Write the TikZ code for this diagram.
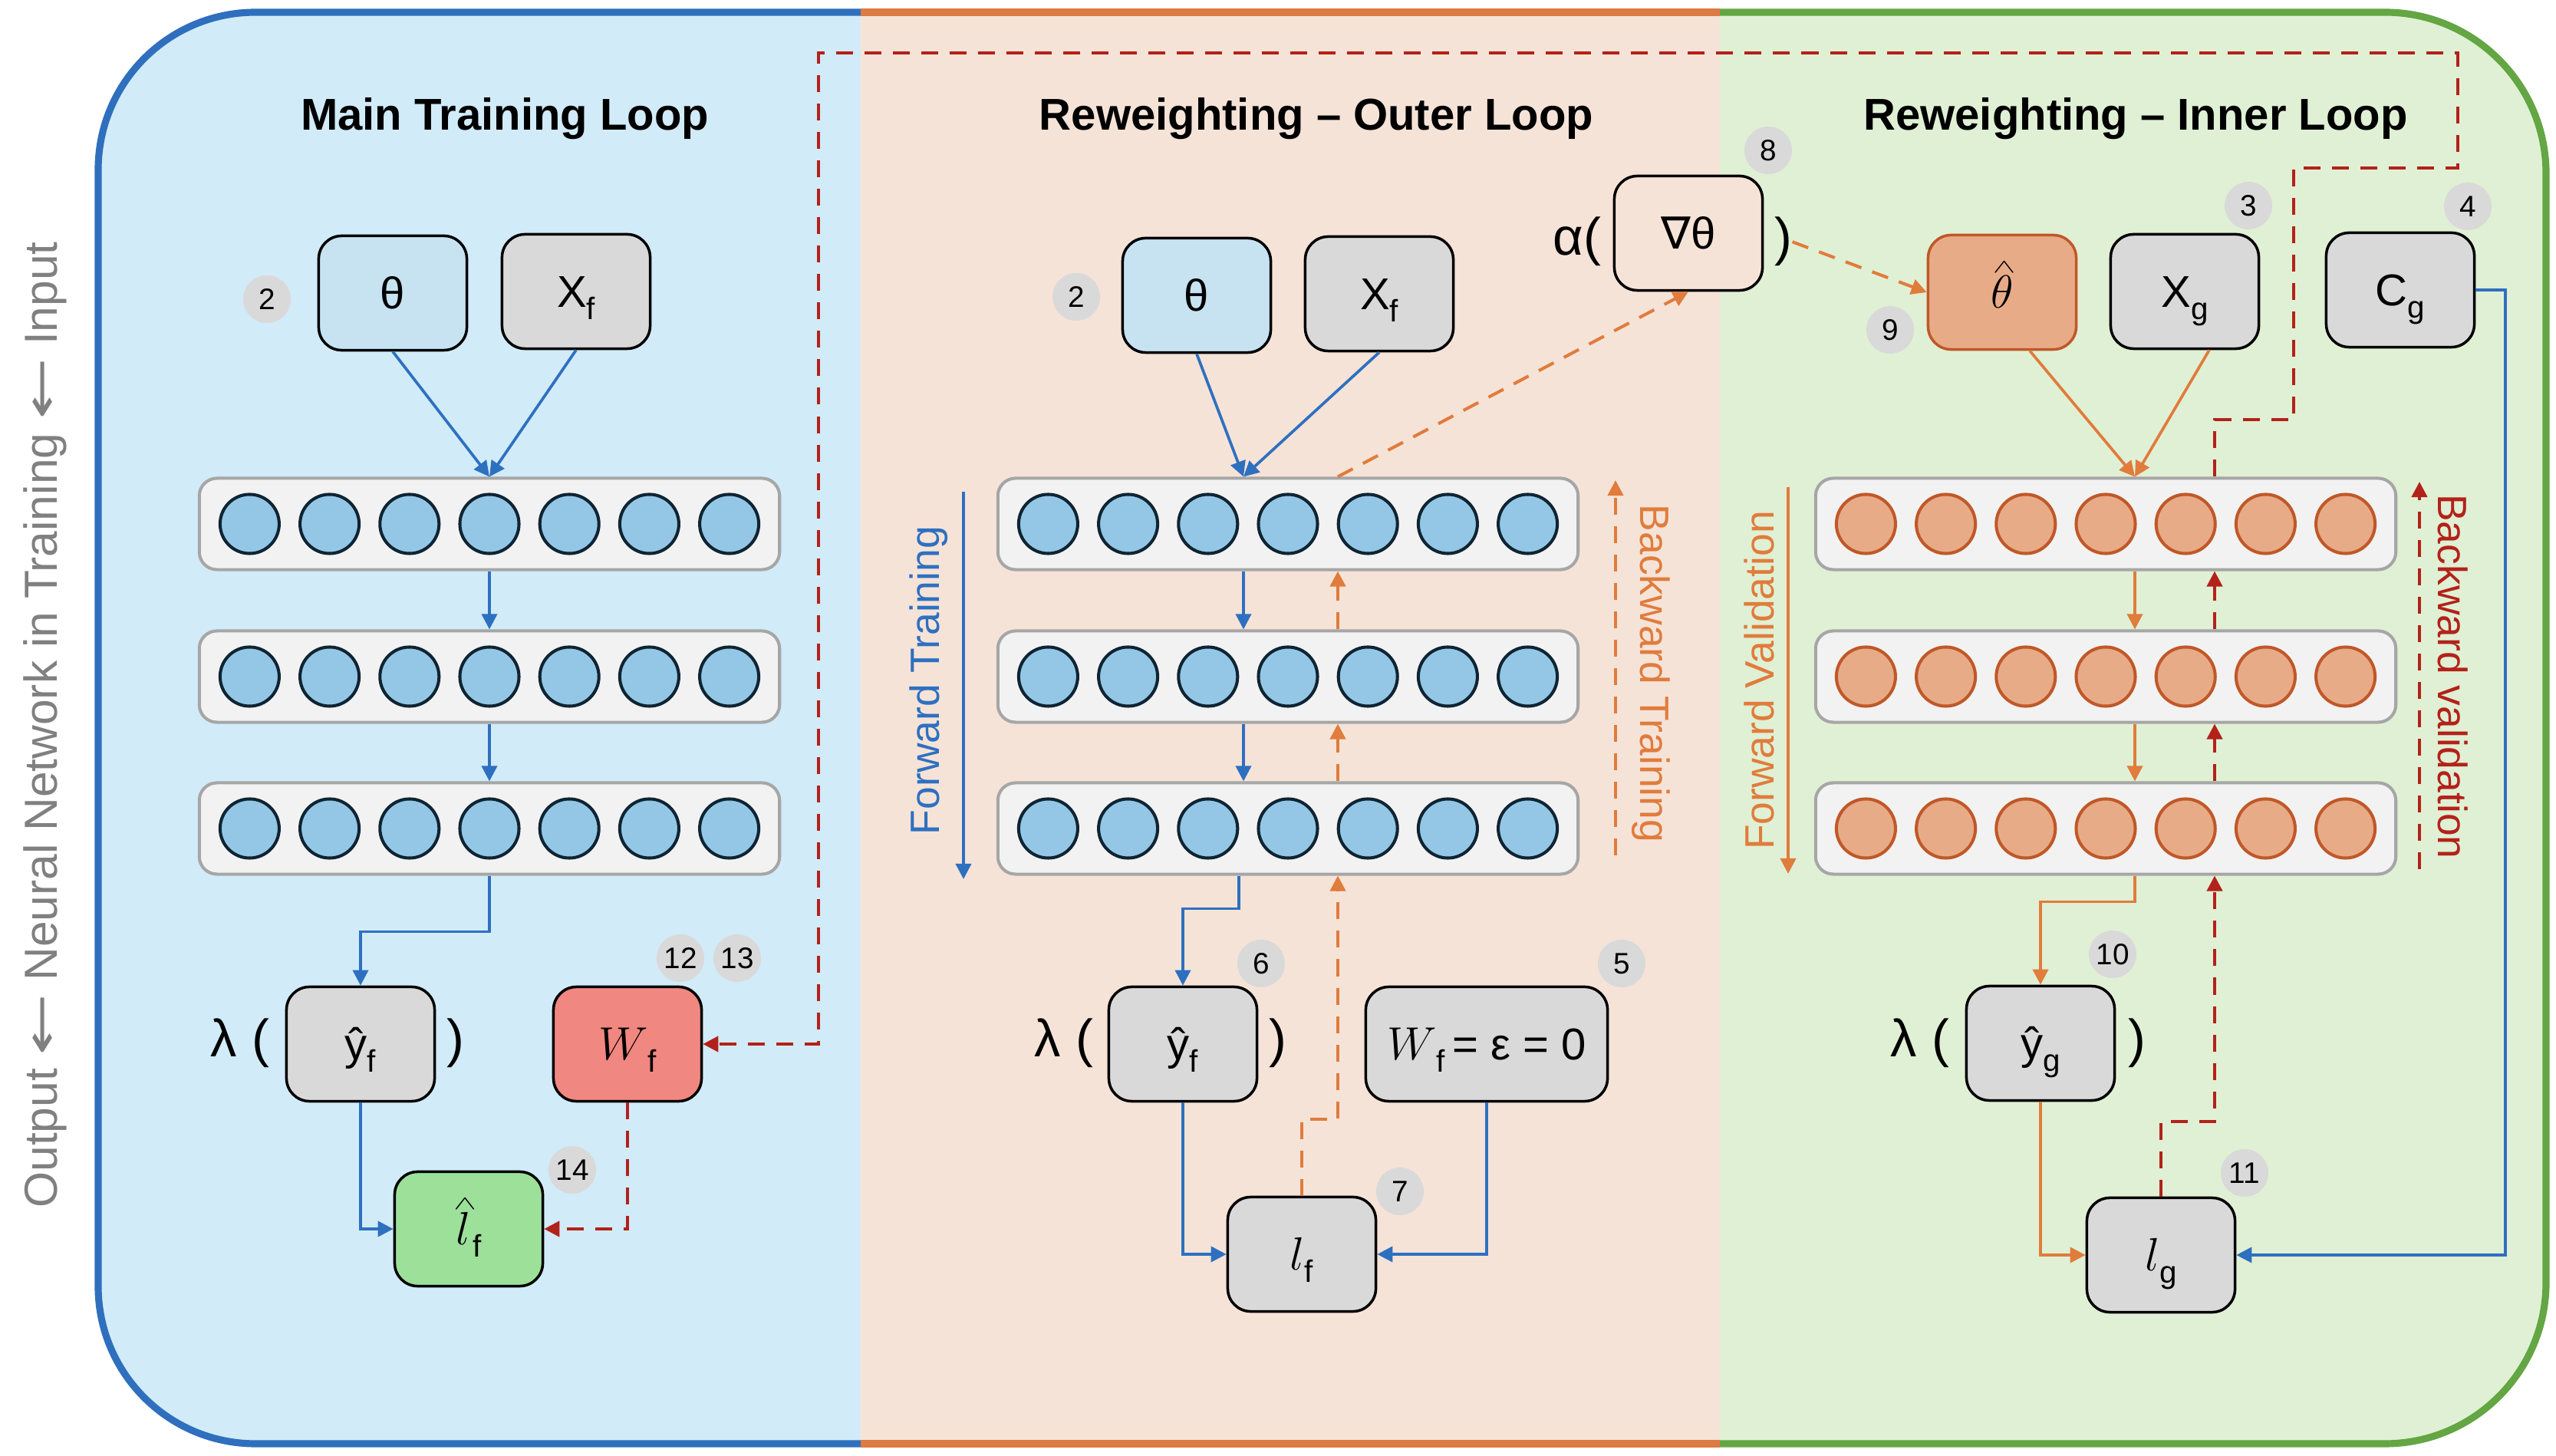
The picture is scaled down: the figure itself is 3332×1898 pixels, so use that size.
\documentclass[tikz,border=0pt]{standalone}
\usepackage{fontspec}
\setmainfont{Liberation Sans}
\newfontfamily\djv{DejaVu Sans}
\usepackage{graphicx}
\usetikzlibrary{arrows.meta,calc}

\definecolor{panelblue}{RGB}{209,235,248}
\definecolor{panelorange}{RGB}{246,227,216}
\definecolor{panelgreen}{RGB}{224,240,212}
\definecolor{borderblue}{RGB}{47,111,189}
\definecolor{borderorange}{RGB}{221,123,67}
\definecolor{bordergreen}{RGB}{99,166,67}
\definecolor{lineblue}{RGB}{46,112,192}
\definecolor{lineorange}{RGB}{224,124,60}
\definecolor{darkred}{RGB}{178,34,26}
\definecolor{boxgray}{RGB}{217,217,217}
\definecolor{numgray}{RGB}{217,217,217}
\definecolor{layerfill}{RGB}{242,242,242}
\definecolor{layerborder}{RGB}{166,166,166}
\definecolor{neuronB}{RGB}{148,199,230}
\definecolor{neuronBborder}{RGB}{15,36,51}
\definecolor{neuronO}{RGB}{232,171,136}
\definecolor{neuronOborder}{RGB}{192,88,40}
\definecolor{thetablue}{RGB}{199,227,242}
\definecolor{wred}{RGB}{240,135,128}
\definecolor{lgreen}{RGB}{156,224,154}
\definecolor{axisgray}{RGB}{128,128,128}

\newcommand\dgBox{\fontsize{16.5}{19}\selectfont}
\newcommand\dgNum{\fontsize{11}{12}\selectfont}
\newcommand\dgParen{\fontsize{19.5}{22}\selectfont}
\newcommand\dgTitle{\fontsize{16.5}{19}\selectfont\bfseries}
\newcommand\dgSide{\fontsize{15.2}{18}\selectfont}
\newcommand\dgAxis{\fontsize{17.2}{20}\selectfont}
\newcommand\sbs[1]{\raisebox{-4.5pt}{\fontsize{11.5}{12}\selectfont #1}}
\newcommand\mth[1]{{\fontsize{18}{20}\selectfont$#1$}}
% letter with a separate hat placed clearly above it
\newcommand\hatted[2]{{\fontsize{18}{20}\selectfont
  \setbox0\hbox{$#2$}%
  \rlap{\hbox to \wd0{\hss\kern#1\raisebox{\dimexpr\ht0+1.2pt\relax}{\scalebox{1.05}[0.6]{\fontsize{13}{13}\selectfont$\boldsymbol{\wedge}$}}\hss}}\box0}}
\providecommand\boldsymbol[1]{#1}
\newcommand\larr{\scalebox{1.6}[1]{\djv ←}}
\newcommand\nnlayer[4]{%
  \node[layerbox] (#1) at (#2,#3) {};
  \foreach \k in {-3,...,3}{\node[#4] (#1n\k) at ({#2+\k*104.2},#3) {};}
}

\begin{document}
\begin{tikzpicture}[x=0.01cm,y=-0.01cm,
  layerbox/.style={draw=layerborder, fill=layerfill, line width=1.15pt, rounded corners=0.23cm, minimum width=7.56cm, minimum height=1.19cm, inner sep=0pt},
  neurB/.style={circle, draw=neuronBborder, fill=neuronB, line width=1.15pt, minimum size=0.77cm, inner sep=0pt},
  neurO/.style={circle, draw=neuronOborder, fill=neuronO, line width=1.15pt, minimum size=0.77cm, inner sep=0pt},
  card/.style={draw=black, line width=1pt, rounded corners=0.3cm, minimum width=1.93cm, minimum height=1.49cm, inner sep=0pt, font=\dgBox, text height=11.8pt, text depth=0pt},
  numc/.style={circle, fill=numgray, minimum size=0.62cm, inner sep=0pt, font=\dgNum, text height=7.9pt, text depth=0pt},
  paren/.style={inner sep=0pt, font=\dgParen},
  ttl/.style={font=\dgTitle, inner sep=0pt, anchor=base},
  sidelbl/.style={font=\dgSide, inner sep=0pt, anchor=base},
  bl/.style={draw=lineblue, line width=1.05pt},
  ol/.style={draw=lineorange, line width=1.05pt},
  arrowhd/.style={-{Triangle[length=0.2cm,width=0.2cm]}},
  odash/.style={draw=lineorange, line width=1.15pt, dash pattern=on 0.22cm off 0.15cm},
  rdash/.style={draw=darkred, line width=1.15pt, dash pattern=on 0.22cm off 0.15cm}]

\useasboundingbox (0,0) rectangle (3332,1898);

% ---------- panels
\fill[panelblue, rounded corners=2.05cm] (128,16) rectangle (1500,1882);
\fill[panelgreen, rounded corners=2.1cm] (1900,16) rectangle (3319,1882);
\fill[panelorange] (1122,16) rectangle (2242,1882);
\draw[borderblue, line width=2.6pt, rounded corners=2.05cm] (1122,16) -- (128,16) -- (128,1882) -- (1122,1882);
\draw[borderorange, line width=2.6pt] (1122,16) -- (2242,16) (1122,1882) -- (2242,1882);
\draw[bordergreen, line width=2.6pt, rounded corners=2.1cm] (2242,16) -- (3319,16) -- (3319,1882) -- (2242,1882);

% ---------- titles
\node[ttl] (t1) at (658,170) {Main Training Loop};
\node[ttl] (t2) at (1716,170) {Reweighting – Outer Loop};
\node[ttl] (t3) at (2784,170) {Reweighting – Inner Loop};

% ---------- axis label
\node[font=\dgAxis, text=axisgray, inner sep=0pt, rotate=90, anchor=base] (axis) at (74,945)
  {Output \larr{} Neural Network in Training \larr{} Input};

% ---------- layers
\nnlayer{A1}{638}{683}{neurB}
\nnlayer{A2}{638}{882}{neurB}
\nnlayer{A3}{638}{1080}{neurB}
\nnlayer{B1}{1679}{683}{neurB}
\nnlayer{B2}{1679}{882}{neurB}
\nnlayer{B3}{1679}{1080}{neurB}
\nnlayer{C1}{2745}{683}{neurO}
\nnlayer{C2}{2745}{882}{neurO}
\nnlayer{C3}{2745}{1080}{neurO}

% ---------- side arrows and labels
\coordinate (ftA) at (1256,641); \coordinate (ftB) at (1256,1146);
\draw[bl, arrowhd] (ftA) -- (ftB);
\node[sidelbl, text=lineblue, rotate=90] (ftl) at (1224,887) {Forward Training};
\coordinate (btA) at (2106,1115); \coordinate (btB) at (2106,626);
\draw[odash, arrowhd] (btA) -- (btB);
\node[sidelbl, text=lineorange, rotate=-90] (btl) at (2138,878) {Backward Training};
\coordinate (fvA) at (2331,635); \coordinate (fvB) at (2331,1139);
\draw[ol, arrowhd] (fvA) -- (fvB);
\node[sidelbl, text=lineorange, rotate=90] (fvl) at (2312,887) {Forward Validation};
\coordinate (bvA) at (3154,1133); \coordinate (bvB) at (3154,628);
\draw[rdash, arrowhd] (bvA) -- (bvB);
\node[sidelbl, text=darkred, rotate=-90] (bvl) at (3178,882) {Backward validation};

% ---------- left panel nodes
\node[numc] (n2a) at (348,390) {2};
\node[card, fill=thetablue] (tL) at (512,382) {θ};
\node[card, fill=boxgray] (xL) at (751,380) {X\sbs{f}};
\node[card, fill=boxgray] (yL) at (470,1361) {ŷ\sbs{f}};
\node[paren, anchor=base east] (lamL) at ($(yL.west)+(-20,17)$) {λ (};
\node[paren, anchor=base west] (rpL) at ($(yL.east)+(13,17)$) {)};
\node[card, fill=wred] (wL) at (818,1361) {\mth{W}\sbs{f}};
\node[numc] (n12) at (887,1249) {12};
\node[numc] (n13) at (961,1249) {13};
\node[card, fill=lgreen] (lhat) at (611,1602) {\hatted{1.5pt}{l}\kern1pt\sbs{f}};
\node[numc] (n14) at (746,1525) {14};

% ---------- middle panel nodes
\node[numc] (n2b) at (1403,387) {2};
\node[card, fill=thetablue] (tM) at (1560,385) {θ};
\node[card, fill=boxgray] (xM) at (1798,383) {X\sbs{f}};
\node[card, fill=panelorange] (grad) at (2201,304) {{\djv ∇}θ};
\node[numc] (n8) at (2305,196) {8};
\node[paren, anchor=base east] (gradL) at ($(grad.west)+(-15,29)$) {α(};
\node[paren, anchor=base west] (gradR) at ($(grad.east)+(13,29)$) {)};
\node[card, fill=boxgray] (yM) at (1542,1361) {ŷ\sbs{f}};
\node[paren, anchor=base east] (lamM) at ($(yM.west)+(-18,17)$) {λ (};
\node[paren, anchor=base west] (rpM) at ($(yM.east)+(13,17)$) {)};
\node[numc] (n6) at (1644,1256) {6};
\node[card, fill=boxgray, minimum width=3.15cm] (wM) at (1938,1361) {\mth{W}\sbs{f}\,= ε = 0};
\node[numc] (n5) at (2114,1256) {5};
\node[card, fill=boxgray] (lf) at (1697,1635) {\mth{l}\sbs{f}};
\node[numc] (n7) at (1825,1553) {7};

% ---------- inner panel nodes
\node[card, fill=neuronO, draw=neuronOborder] (th) at (2610,381) {\hatted{1.5pt}{\theta}};
\node[numc] (n9) at (2464,430) {9};
\node[card, fill=boxgray] (xg) at (2848,380) {X\sbs{g}};
\node[numc] (n3) at (2931,268) {3};
\node[card, fill=boxgray] (cg) at (3129,378) {C\sbs{g}};
\node[numc] (n4) at (3217,269) {4};
\node[card, fill=boxgray] (yI) at (2660,1360) {ŷ\sbs{g}};
\node[paren, anchor=base east] (lamI) at ($(yI.west)+(-20,17)$) {λ (};
\node[paren, anchor=base west] (rpI) at ($(yI.east)+(15,17)$) {)};
\node[numc] (n10) at (2754,1244) {10};
\node[card, fill=boxgray] (lg) at (2817,1636) {\mth{l}\sbs{g}};
\node[numc] (n11) at (2926,1529) {11};

% ---------- left connectors
\draw[bl, arrowhd] (tL.south) -- (A1.north);
\draw[bl, arrowhd] (xL.south) -- (A1.north);
\draw[bl, arrowhd] (A1.south) -- (A2.north);
\draw[bl, arrowhd] (A2.south) -- (A3.north);
\draw[bl, arrowhd] (A3.south) -- ++(0,73) -| (yL.north);
\draw[bl, arrowhd] (yL.south) |- (lhat.west);
\draw[rdash, arrowhd] (wL.south) |- (lhat.east);
\coordinate (r1) at (2990,547);
\coordinate (r2) at (3204,219);
\coordinate (r3) at (1067,69);
\draw[rdash, arrowhd] ($(C1.north)+(142,0)$) |- (r1) |- (r2) |- (r3) |- (wL.east);

% ---------- middle connectors
\draw[bl, arrowhd] (tM.south) -- ($(B1.north)+(-58,0)$);
\draw[bl, arrowhd] (xM.south) -- ($(B1.north)+(-58,0)$);
\draw[bl, arrowhd] ($(B1.south)+(-58,0)$) -- ($(B2.north)+(-58,0)$);
\draw[bl, arrowhd] ($(B2.south)+(-58,0)$) -- ($(B3.north)+(-58,0)$);
\draw[bl, arrowhd] ($(B3.south)+(-64,0)$) -- ++(0,43) -| (yM.north);
\draw[bl, arrowhd] (yM.south) |- (lf.west);
\draw[bl, arrowhd] (wM.south) |- (lf.east);
\draw[odash, arrowhd] (lf.north) -- ++(0,-100) -| ($(B3.south)+(65,0)$);
\draw[odash, arrowhd] ($(B3.north)+(65,0)$) -- ($(B2.south)+(65,0)$);
\draw[odash, arrowhd] ($(B2.north)+(65,0)$) -- ($(B1.south)+(65,0)$);
\draw[odash, arrowhd] ($(B1.north)+(65,0)$) -- (grad.south);
\draw[odash, arrowhd] (gradR.east) -- (th.west);

% ---------- inner connectors
\draw[ol, arrowhd] ($(th.south)+(36,0)$) -- ($(C1.north)+(38,0)$);
\draw[ol, arrowhd] ($(xg.south)+(32,0)$) -- ($(C1.north)+(38,0)$);
\draw[ol, arrowhd] ($(C1.south)+(38,0)$) -- ($(C2.north)+(38,0)$);
\draw[ol, arrowhd] ($(C2.south)+(38,0)$) -- ($(C3.north)+(38,0)$);
\draw[ol, arrowhd] ($(C3.south)+(38,0)$) -- ++(0,34) -| (yI.north);
\draw[ol, arrowhd] (yI.south) |- (lg.west);
\draw[bl, arrowhd] (cg.east) -- ++(39,0) |- (lg.east);
\draw[rdash, arrowhd] (lg.north) -- ++(0,-98) -| ($(C3.south)+(142,0)$);
\draw[rdash, arrowhd] ($(C3.north)+(142,0)$) -- ($(C2.south)+(142,0)$);
\draw[rdash, arrowhd] ($(C2.north)+(142,0)$) -- ($(C1.south)+(142,0)$);

\end{tikzpicture}
\end{document}
